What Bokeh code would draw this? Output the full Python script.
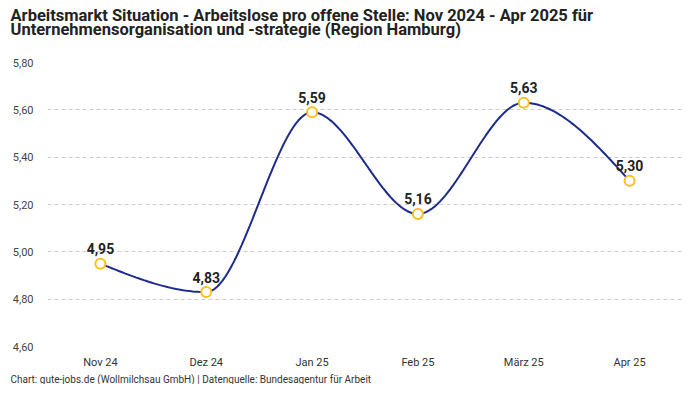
import numpy as np
from bokeh.plotting import figure
from bokeh.models import Title, ColumnDataSource, FixedTicker, Range1d, LabelSet, CustomJSTickFormatter
from bokeh.core.properties import value
from bokeh.embed import file_html
from bokeh.resources import INLINE

months = ["Nov 24", "Dez 24", "Jan 25", "Feb 25", "März 25", "Apr 25"]
values = [4.95, 4.83, 5.59, 5.16, 5.63, 5.30]
y_ticks = [4.6, 4.8, 5.0, 5.2, 5.4, 5.6, 5.8]
title_line1 = "Arbeitsmarkt Situation - Arbeitslose pro offene Stelle: Nov 2024 - Apr 2025 für"
title_line2 = "Unternehmensorganisation und -strategie (Region Hamburg)"
footer_text = "Chart: gute-jobs.de (Wollmilchsau GmbH) | Datenquelle: Bundesagentur für Arbeit"

SANS = "Roboto"
LEFT = 47


def monotone_x(xs, ys, n=40):
    xs = np.asarray(xs, float)
    ys = np.asarray(ys, float)
    h = np.diff(xs)
    s = np.diff(ys) / h
    m = len(xs)
    t = np.zeros(m)
    for i in range(1, m - 1):
        s0, s1 = s[i - 1], s[i]
        h0, h1 = h[i - 1], h[i]
        p = (s0 * h1 + s1 * h0) / (h0 + h1)
        t[i] = (np.sign(s0) + np.sign(s1)) * min(abs(s0), abs(s1), 0.5 * abs(p))
    t[0] = (3 * s[0] - t[1]) / 2
    t[-1] = (3 * s[-1] - t[-2]) / 2
    out_x, out_y = [], []
    for i in range(m - 1):
        u = np.linspace(0, 1, n)
        h00 = 2 * u**3 - 3 * u**2 + 1
        h10 = u**3 - 2 * u**2 + u
        h01 = -2 * u**3 + 3 * u**2
        h11 = u**3 - u**2
        yy = h00 * ys[i] + h10 * h[i] * t[i] + h01 * ys[i + 1] + h11 * h[i] * t[i + 1]
        xx = xs[i] + u * h[i]
        out_x.extend(xx.tolist())
        out_y.extend(yy.tolist())
    return out_x, out_y


idx = list(range(len(months)))
cx, cy = monotone_x(idx, values)

p = figure(width=684, height=384, output_backend="svg", toolbar_location=None,
           x_range=Range1d(-0.5, len(months) - 0.5), y_range=Range1d(4.6, 5.8),
           min_border_left=LEFT, min_border_right=2, min_border_top=0, min_border_bottom=0)
p.outline_line_color = None
p.background_fill_color = "white"
p.border_fill_color = "white"
p.title.visible = False

# spacer between title block and plot frame
p.add_layout(Title(text=" ", text_font=SANS, text_font_size="1px", align="left", standoff=14), "above")
p.add_layout(Title(text=title_line1 + "\n" + title_line2, text_font=SANS, text_font_size="16.5px",
                   text_font_style="bold", text_line_height=0.75, vertical_align="top",
                   text_color="#222222", align="left", offset=10 - LEFT, standoff=10), "above")
p.add_layout(Title(text=footer_text, text_font=SANS, text_font_size="10px", text_font_style="normal",
                   text_color="#333333", align="left", offset=10 - LEFT, standoff=0), "below")

p.line(cx, cy, line_color="#1c2b8c", line_width=2)
src = ColumnDataSource(dict(x=idx, y=values, lbl=[f"{v:.2f}".replace(".", ",") for v in values]))
p.scatter("x", "y", source=src, size=10, fill_color="white", line_color="#fcc01e", line_width=2)
p.add_layout(LabelSet(x="x", y="y", text="lbl", source=src, text_align="center", text_baseline="middle",
                      y_offset=15, text_font=value(SANS), text_font_size=value("14px"),
                      text_font_style="bold", text_color="#222222"))

p.yaxis.ticker = FixedTicker(ticks=y_ticks)
p.yaxis.formatter = CustomJSTickFormatter(code="return tick.toFixed(2).replace('.', ',');")
p.yaxis.axis_line_color = None
p.yaxis.major_tick_line_color = None
p.yaxis.minor_tick_line_color = None
p.yaxis.major_tick_out = 0
p.yaxis.major_tick_in = 0
p.yaxis.major_label_text_font = SANS
p.yaxis.major_label_text_font_size = "11px"
p.yaxis.major_label_text_color = "#444444"
p.yaxis.major_label_standoff = 14

p.xaxis.ticker = FixedTicker(ticks=idx)
p.xaxis.major_label_overrides = {i: m for i, m in zip(idx, months)}
p.xaxis.axis_line_color = None
p.xaxis.major_tick_line_color = None
p.xaxis.minor_tick_line_color = None
p.xaxis.major_tick_out = 0
p.xaxis.major_tick_in = 0
p.xaxis.major_label_text_font = SANS
p.xaxis.major_label_text_font_size = "11px"
p.xaxis.major_label_text_color = "#333333"
p.xaxis.major_label_standoff = 9

p.xgrid.grid_line_color = None
p.ygrid.ticker = FixedTicker(ticks=y_ticks)
p.ygrid.grid_line_color = "#cccccc"
p.ygrid.grid_line_dash = "4 3"
p.ygrid.grid_line_width = 1

open("out.html", "w").write(file_html(p, INLINE))
